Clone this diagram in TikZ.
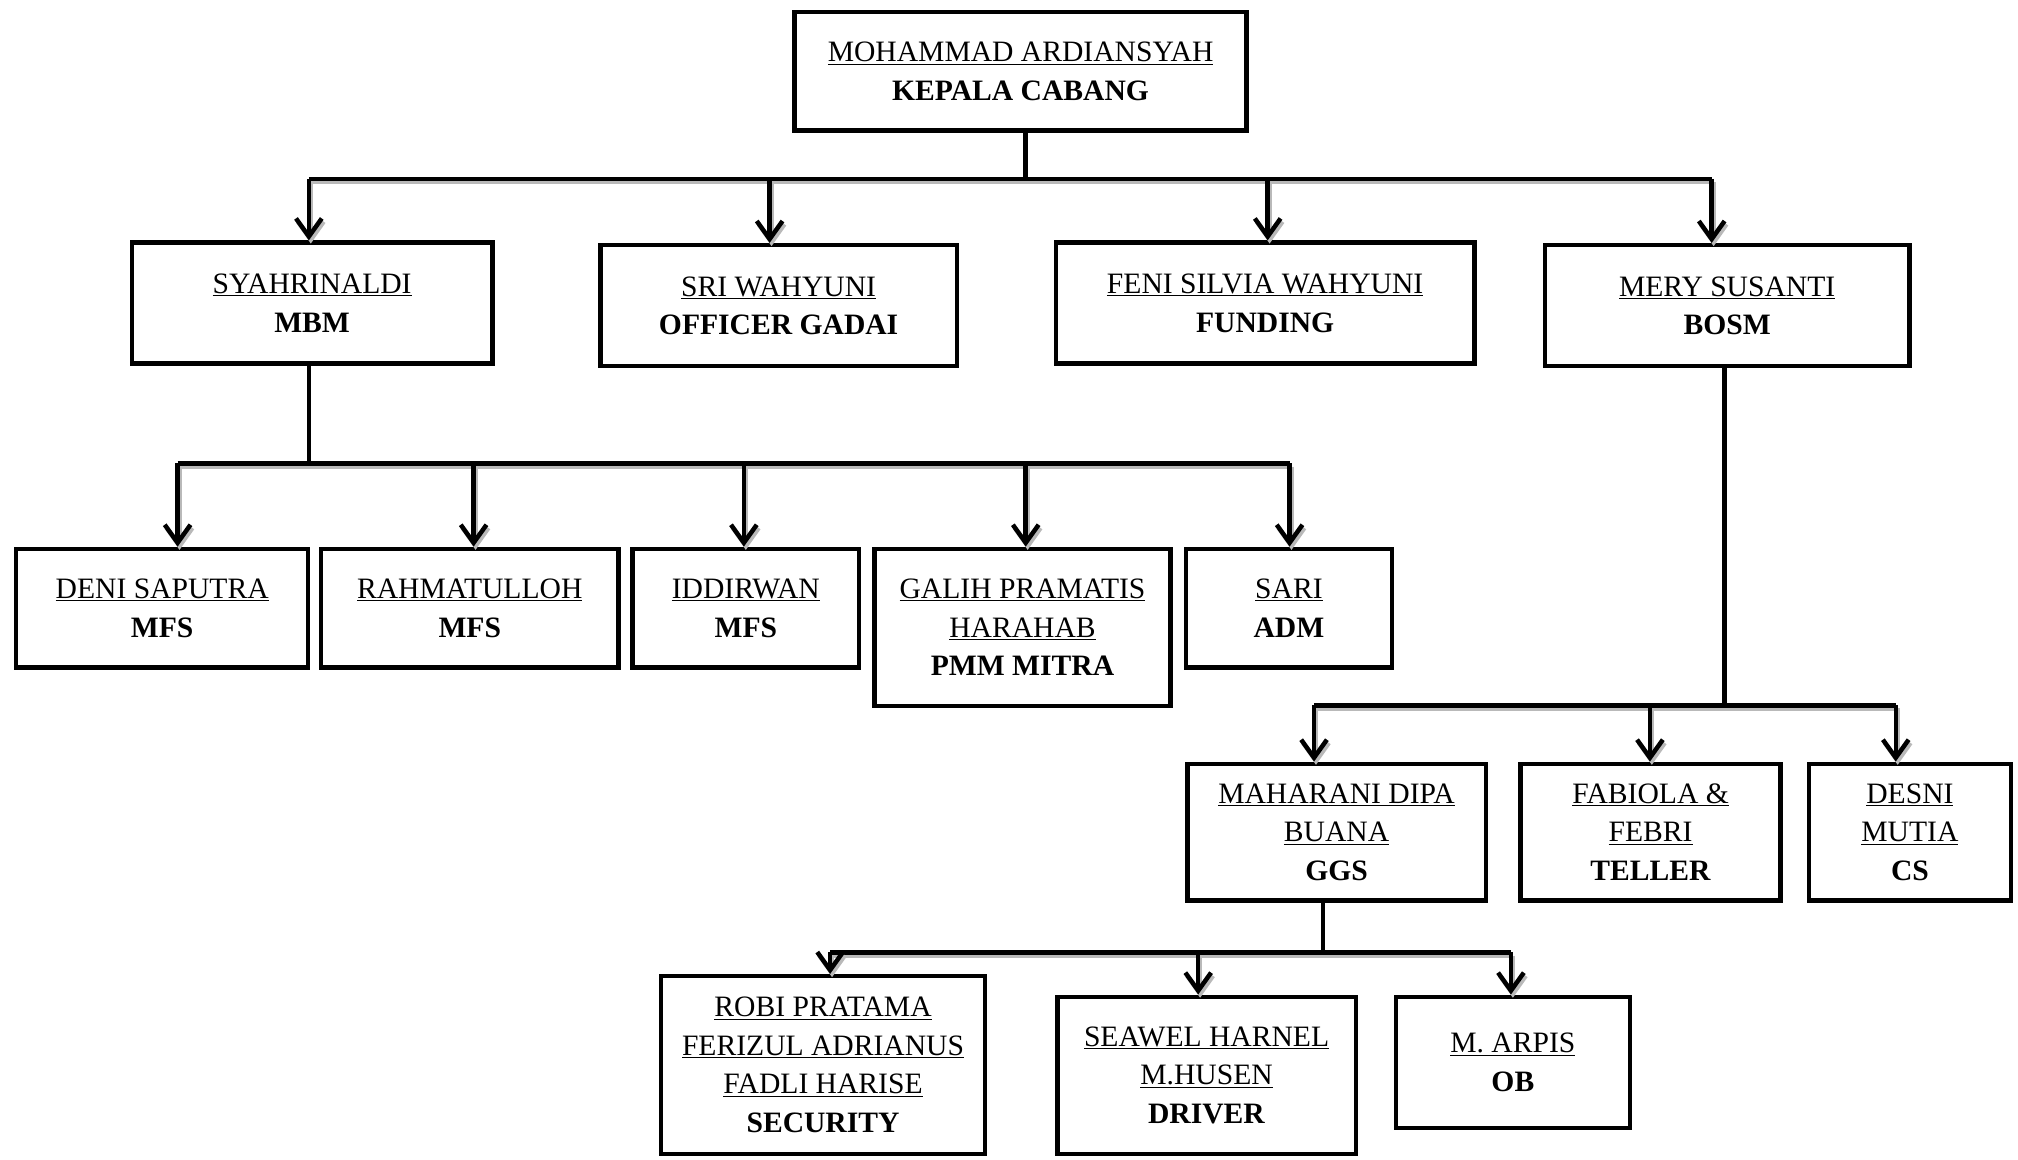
\documentclass[tikz,border=0pt]{standalone}
\usepackage{fontspec}
\setmainfont{Liberation Serif}
\usetikzlibrary{arrows.meta}
\tikzset{
  box/.style={draw, line width=3.5pt, rectangle, inner sep=0pt, align=center,
    font=\fontsize{23}{30}\selectfont},
  shade/.style={preaction={draw=gray!55, line width=3.5pt, transform canvas={shift={(1.5pt,-2.5pt)}}}},
  bus/.style={line width=3.5pt, shade},
  drop/.style={line width=3.5pt},
  arr/.style={line width=3.5pt, -{Straight Barb[length=14pt,width=20pt]}, shade}
}
\newcommand{\nm}[1]{\underline{#1}}
\begin{document}
\begin{tikzpicture}[x=1pt,y=-1pt]
\useasboundingbox (0,0) rectangle (1568,901);
% nodes
\node[box, minimum width=351, minimum height=92] (top) at (793,55.5) {\nm{MOHAMMAD ARDIANSYAH}\\\textbf{KEPALA CABANG}};
\node[box, minimum width=280, minimum height=94] (syah) at (242.5,235.5) {\nm{SYAHRINALDI}\\\textbf{MBM}};
\node[box, minimum width=277, minimum height=94] (sri) at (605,237.5) {\nm{SRI WAHYUNI}\\\textbf{OFFICER GADAI}};
\node[box, minimum width=325, minimum height=94] (feni) at (983,235.5) {\nm{FENI SILVIA WAHYUNI}\\\textbf{FUNDING}};
\node[box, minimum width=283, minimum height=94] (mery) at (1342,237.5) {\nm{MERY SUSANTI}\\\textbf{BOSM}};
\node[box, minimum width=227, minimum height=92] (deni) at (126,472.5) {\nm{DENI SAPUTRA}\\\textbf{MFS}};
\node[box, minimum width=231, minimum height=92] (rahma) at (365,472.5) {\nm{RAHMATULLOH}\\\textbf{MFS}};
\node[box, minimum width=176, minimum height=92] (iddir) at (579.5,472.5) {\nm{IDDIRWAN}\\\textbf{MFS}};
\node[box, minimum width=230, minimum height=122] (galih) at (794.5,487.5) {\nm{GALIH PRAMATIS}\\\nm{HARAHAB}\\\textbf{PMM MITRA}};
\node[box, minimum width=160, minimum height=92] (sari) at (1001.5,472.5) {\nm{SARI}\\\textbf{ADM}};
\node[box, minimum width=232, minimum height=106] (mahar) at (1038.5,646.5) {\nm{MAHARANI DIPA}\\\nm{BUANA}\\\textbf{GGS}};
\node[box, minimum width=202, minimum height=106] (fabi) at (1282.5,646.5) {\nm{FABIOLA \&}\\\nm{FEBRI}\\\textbf{TELLER}};
\node[box, minimum width=157, minimum height=106] (desni) at (1484,646.5) {\nm{DESNI}\\\nm{MUTIA}\\\textbf{CS}};
\node[box, minimum width=252, minimum height=138] (robi) at (639.5,827.5) {\nm{ROBI PRATAMA}\\\nm{FERIZUL ADRIANUS}\\\nm{FADLI HARISE}\\\textbf{SECURITY}};
\node[box, minimum width=232, minimum height=122] (seawel) at (937.5,835.5) {\nm{SEAWEL HARNEL}\\\nm{M.HUSEN}\\\textbf{DRIVER}};
\node[box, minimum width=182, minimum height=102] (arpis) at (1175.5,825.5) {\nm{M. ARPIS}\\\textbf{OB}};
% bus coordinates
\coordinate (b1) at (797,139);
\coordinate (b2) at (240,360);
\coordinate (b3) at (1340,548);
\coordinate (b4) at (1028,740);
% level 1
\draw[drop] ([xshift=4pt]top.south) -- (b1);
\draw[bus] ([xshift=-2.5pt]syah.north |- b1) -- ([xshift=-12pt]mery.north |- b1);
\draw[arr] ([xshift=-2.5pt]syah.north |- b1) -- ([xshift=-2.5pt]syah.north);
\draw[arr] ([xshift=-7pt]sri.north |- b1) -- ([xshift=-7pt]sri.north);
\draw[arr] ([xshift=2pt]feni.north |- b1) -- ([xshift=2pt]feni.north);
\draw[arr] ([xshift=-12pt]mery.north |- b1) -- ([xshift=-12pt]mery.north);
% level 2
\draw[drop] ([xshift=-2.5pt]syah.south) -- (b2);
\draw[bus] ([xshift=12pt]deni.north |- b2) -- ([xshift=0.5pt]sari.north |- b2);
\draw[arr] ([xshift=12pt]deni.north |- b2) -- ([xshift=12pt]deni.north);
\draw[arr] ([xshift=3pt]rahma.north |- b2) -- ([xshift=3pt]rahma.north);
\draw[arr] ([xshift=-1.5pt]iddir.north |- b2) -- ([xshift=-1.5pt]iddir.north);
\draw[arr] ([xshift=2.5pt]galih.north |- b2) -- ([xshift=2.5pt]galih.north);
\draw[arr] ([xshift=0.5pt]sari.north |- b2) -- ([xshift=0.5pt]sari.north);
% level 3
\draw[drop] ([xshift=-2pt]mery.south) -- (b3);
\draw[bus] ([xshift=-17.5pt]mahar.north |- b3) -- ([xshift=-11pt]desni.north |- b3);
\draw[arr] ([xshift=-17.5pt]mahar.north |- b3) -- ([xshift=-17.5pt]mahar.north);
\draw[arr] ([xshift=-0.5pt]fabi.north |- b3) -- ([xshift=-0.5pt]fabi.north);
\draw[arr] ([xshift=-11pt]desni.north |- b3) -- ([xshift=-11pt]desni.north);
% level 4
\draw[drop] ([xshift=-10.5pt]mahar.south) -- (b4);
\draw[bus] ([xshift=5.5pt]robi.north |- b4) -- ([xshift=-1.5pt]arpis.north |- b4);
\draw[arr] ([xshift=5.5pt]robi.north |- b4) -- ([xshift=5.5pt]robi.north);
\draw[arr] ([xshift=-6.5pt]seawel.north |- b4) -- ([xshift=-6.5pt]seawel.north);
\draw[arr] ([xshift=-1.5pt]arpis.north |- b4) -- ([xshift=-1.5pt]arpis.north);
\end{tikzpicture}
\end{document}
